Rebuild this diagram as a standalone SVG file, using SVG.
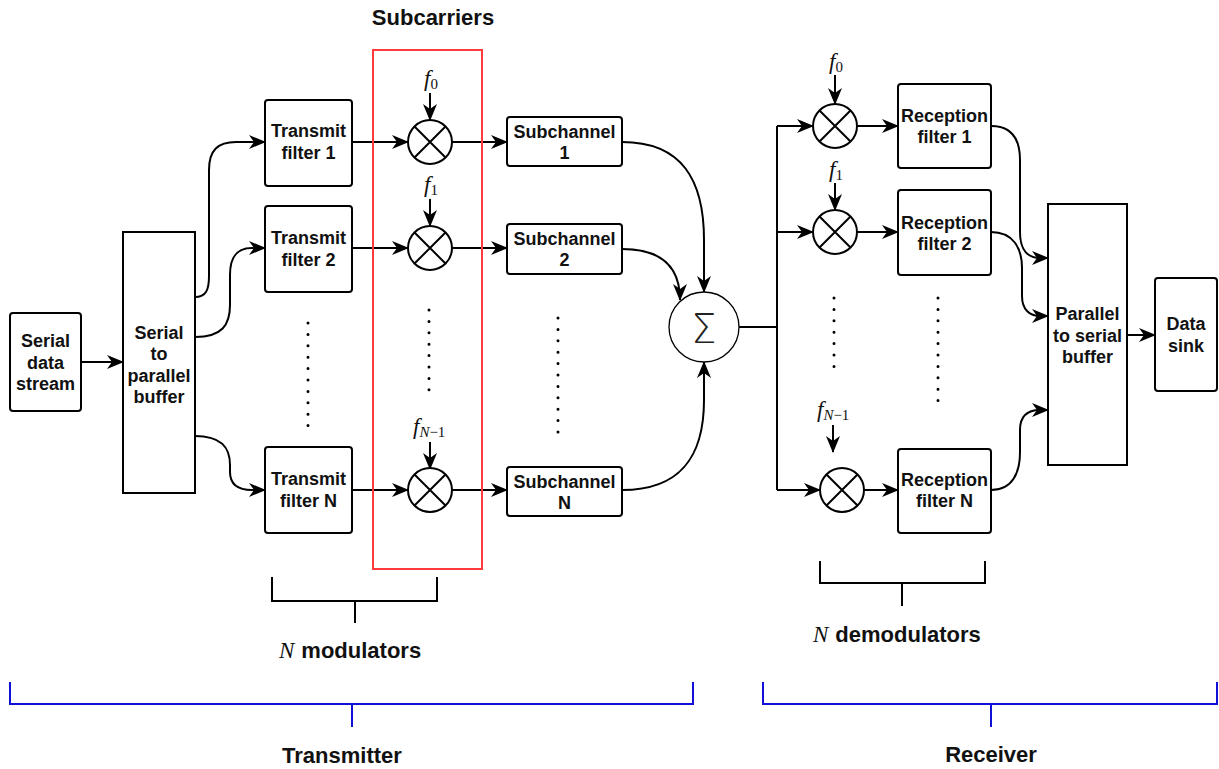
<svg xmlns="http://www.w3.org/2000/svg" width="1219" height="769" viewBox="0 0 1219 769">
  <style>
    .box { fill: #fff; stroke: #000; stroke-width: 2; }
    .lbl { font-family: "Liberation Sans", Arial, sans-serif; font-weight: bold; font-size: 18px; fill: #111; text-anchor: middle; }
    .big { font-family: "Liberation Sans", Arial, sans-serif; font-weight: bold; font-size: 22px; fill: #111; }
    .math { font-family: "Liberation Serif", "Times New Roman", serif; font-size: 23px; fill: #111; }
    .sub { font-size: 15px; font-style: normal; }
    .wire { fill: none; stroke: #000; stroke-width: 2; }
    .arrow { fill: none; stroke: #000; stroke-width: 2; marker-end: url(#head); }
    .dots { fill: none; stroke: #000; stroke-width: 3; stroke-linecap: round; stroke-dasharray: 0 11.4; }
    .brk { fill: none; stroke: #000; stroke-width: 2; }
    .bbrk { fill: none; stroke: #1010d8; stroke-width: 2; }
  </style>
  <defs>
    <marker id="head" viewBox="0 0 17 14" refX="16" refY="7" markerWidth="17" markerHeight="14" markerUnits="userSpaceOnUse" orient="auto">
      <path d="M0,0 L17,7 L0,14 L5,7 Z" fill="#000"/>
    </marker>
    <g id="mix">
      <circle r="22" fill="#fff" stroke="#000" stroke-width="2"/>
      <path d="M-15.5,-15.5 L15.5,15.5 M15.5,-15.5 L-15.5,15.5" stroke="#000" stroke-width="2"/>
    </g>
  </defs>

  <rect width="1219" height="769" fill="#fff"/>

  <!-- connectors -->
  <g id="connectors">
    <path class="arrow" d="M81,362 L123,362"/>
    <path class="arrow" d="M195,297 C206,297 209,290 209,276 L209,170 C209,150 218,142 236,142 L265,142"/>
    <path class="arrow" d="M195,337 C222,337 230,325 230,305 L230,275 C230,255 238,248 252,248 L265,248"/>
    <path class="arrow" d="M195,436 C222,436 230,448 230,465 L230,472 C230,485 238,490 252,490 L265,490"/>

    <path class="arrow" d="M352,142 L408,142"/>
    <path class="arrow" d="M352,248 L408,248"/>
    <path class="arrow" d="M352,490 L408,490"/>
    <path class="arrow" d="M452,142 L507,142"/>
    <path class="arrow" d="M452,248 L507,248"/>
    <path class="arrow" d="M452,490 L507,490"/>

    <path class="arrow" d="M430,93 L430,120"/>
    <path class="arrow" d="M430,199 L430,226"/>
    <path class="arrow" d="M430,442 L430,469"/>

    <path class="arrow" d="M622,142 C682,142 704,180 704,240 L704,292"/>
    <path class="arrow" d="M622,249 C660,249 680,265 680,300"/>
    <path class="arrow" d="M622,490 C682,490 704,455 704,400 L704,362"/>

    <path class="wire" d="M739,327 L777,327 M777,126 L777,490"/>
    <path class="arrow" d="M777,126 L813,126"/>
    <path class="arrow" d="M777,232 L813,232"/>
    <path class="arrow" d="M777,490 L820,490"/>
    <path class="arrow" d="M857,126 L898,126"/>
    <path class="arrow" d="M857,232 L898,232"/>
    <path class="arrow" d="M864,490 L898,490"/>

    <path class="arrow" d="M835,75 L835,104"/>
    <path class="arrow" d="M835,183 L835,210"/>
    <path class="arrow" d="M833,425 L833,452"/>

    <path class="arrow" d="M991,126 C1013,126 1020,140 1020,160 L1020,232 C1020,250 1028,258 1040,258 L1048,258"/>
    <path class="arrow" d="M991,232 C1013,232 1022,248 1022,268 L1022,296 C1022,310 1030,316 1040,316 L1048,316"/>
    <path class="arrow" d="M991,490 C1013,490 1020,472 1020,452 L1020,430 C1020,416 1028,410 1040,410 L1048,410"/>

    <path class="arrow" d="M1127,335 L1155,335"/>
  </g>

  <!-- transmitter side -->
  <g id="serial-data-stream">
    <rect class="box" x="10" y="313" width="71" height="98" rx="3"/>
    <text class="lbl" x="45.5" y="347">Serial</text>
    <text class="lbl" x="45.5" y="369">data</text>
    <text class="lbl" x="45.5" y="390">stream</text>
  </g>
  <g id="serial-to-parallel">
    <rect class="box" x="123" y="232" width="72" height="261"/>
    <text class="lbl" x="159" y="339">Serial</text>
    <text class="lbl" x="159" y="360">to</text>
    <text class="lbl" x="159" y="382">parallel</text>
    <text class="lbl" x="159" y="403">buffer</text>
  </g>
  <g id="transmit-filter-1">
    <rect class="box" x="265" y="100" width="87" height="86" rx="3"/>
    <text class="lbl" x="308.5" y="137">Transmit</text>
    <text class="lbl" x="308.5" y="159">filter 1</text>
  </g>
  <g id="transmit-filter-2">
    <rect class="box" x="265" y="206" width="87" height="86" rx="3"/>
    <text class="lbl" x="308.5" y="244">Transmit</text>
    <text class="lbl" x="308.5" y="266">filter 2</text>
  </g>
  <g id="transmit-filter-n">
    <rect class="box" x="265" y="447" width="87" height="86" rx="3"/>
    <text class="lbl" x="308.5" y="485">Transmit</text>
    <text class="lbl" x="308.5" y="507">filter N</text>
  </g>

  <g id="subcarriers">
    <rect x="373" y="50" width="109" height="519" fill="none" stroke="#ff3b3b" stroke-width="2"/>
    <text class="big" x="433" y="25" text-anchor="middle" font-size="19.5">Subcarriers</text>
  </g>
  <g id="tx-mixer-0">
    <use href="#mix" x="430" y="142"/>
    <text class="math" x="424" y="86"><tspan font-style="italic">f</tspan><tspan class="sub" dy="3">0</tspan></text>
  </g>
  <g id="tx-mixer-1">
    <use href="#mix" x="430" y="248"/>
    <text class="math" x="424" y="192"><tspan font-style="italic">f</tspan><tspan class="sub" dy="3">1</tspan></text>
  </g>
  <g id="tx-mixer-n">
    <use href="#mix" x="430" y="490"/>
    <text class="math" x="413" y="434"><tspan font-style="italic">f</tspan><tspan class="sub" dy="3"><tspan font-style="italic">N</tspan>−1</tspan></text>
  </g>

  <g id="subchannel-1">
    <rect class="box" x="507" y="117" width="115" height="49" rx="3"/>
    <text class="lbl" x="564.5" y="138">Subchannel</text>
    <text class="lbl" x="564.5" y="159">1</text>
  </g>
  <g id="subchannel-2">
    <rect class="box" x="507" y="224" width="115" height="50" rx="3"/>
    <text class="lbl" x="564.5" y="245">Subchannel</text>
    <text class="lbl" x="564.5" y="266">2</text>
  </g>
  <g id="subchannel-n">
    <rect class="box" x="507" y="467" width="115" height="49" rx="3"/>
    <text class="lbl" x="564.5" y="488">Subchannel</text>
    <text class="lbl" x="564.5" y="509">N</text>
  </g>

  <g id="summer">
    <circle cx="704" cy="327" r="35" fill="#fff" stroke="#000" stroke-width="1.3"/>
    <text x="704" y="343" text-anchor="middle" font-family="DejaVu Sans, sans-serif" font-weight="200" font-size="40" fill="#222">Σ</text>
  </g>

  <!-- receiver side -->
  <g id="rx-mixer-0">
    <use href="#mix" x="835" y="126"/>
    <text class="math" x="829" y="69"><tspan font-style="italic">f</tspan><tspan class="sub" dy="3">0</tspan></text>
  </g>
  <g id="rx-mixer-1">
    <use href="#mix" x="835" y="232"/>
    <text class="math" x="829" y="177"><tspan font-style="italic">f</tspan><tspan class="sub" dy="3">1</tspan></text>
  </g>
  <g id="rx-mixer-n">
    <use href="#mix" x="842" y="490"/>
    <text class="math" x="817" y="417"><tspan font-style="italic">f</tspan><tspan class="sub" dy="3"><tspan font-style="italic">N</tspan>−1</tspan></text>
  </g>

  <g id="reception-filter-1">
    <rect class="box" x="898" y="84" width="93" height="84" rx="3"/>
    <text class="lbl" x="944.5" y="122">Reception</text>
    <text class="lbl" x="944.5" y="143">filter 1</text>
  </g>
  <g id="reception-filter-2">
    <rect class="box" x="898" y="190" width="93" height="85" rx="3"/>
    <text class="lbl" x="944.5" y="229">Reception</text>
    <text class="lbl" x="944.5" y="250">filter 2</text>
  </g>
  <g id="reception-filter-n">
    <rect class="box" x="898" y="449" width="93" height="84" rx="3"/>
    <text class="lbl" x="944.5" y="486">Reception</text>
    <text class="lbl" x="944.5" y="507">filter N</text>
  </g>

  <g id="parallel-to-serial">
    <rect class="box" x="1048" y="204" width="79" height="261"/>
    <text class="lbl" x="1087.5" y="320">Parallel</text>
    <text class="lbl" x="1087.5" y="342">to serial</text>
    <text class="lbl" x="1087.5" y="363">buffer</text>
  </g>
  <g id="data-sink">
    <rect class="box" x="1155" y="278" width="62" height="113" rx="3"/>
    <text class="lbl" x="1186" y="330">Data</text>
    <text class="lbl" x="1186" y="352">sink</text>
  </g>

  <!-- continuation dots -->
  <g id="ellipses">
    <path class="dots" d="M308,323 L308,430"/>
    <path class="dots" d="M429,310 L429,392"/>
    <path class="dots" d="M558,318 L558,436"/>
    <path class="dots" d="M834,298 L834,368"/>
    <path class="dots" d="M938,298 L938,406"/>
  </g>

  <!-- group brackets -->
  <g id="modulators-bracket">
    <path class="brk" d="M272,577 L272,601 L437,601 L437,577 M355,601 L355,623"/>
    <text x="279" y="658"><tspan class="math" font-style="italic" font-size="26">N</tspan><tspan class="big" dx="7">modulators</tspan></text>
  </g>
  <g id="demodulators-bracket">
    <path class="brk" d="M820,561 L820,583 L985,583 L985,561 M902,583 L902,606"/>
    <text x="813" y="642"><tspan class="math" font-style="italic" font-size="26">N</tspan><tspan class="big" dx="7">demodulators</tspan></text>
  </g>
  <g id="transmitter-bracket">
    <path class="bbrk" d="M10,682 L10,704 L693,704 L693,682 M352,704 L352,727"/>
    <text class="big" x="342" y="763" text-anchor="middle">Transmitter</text>
  </g>
  <g id="receiver-bracket">
    <path class="bbrk" d="M763,682 L763,704 L1217,704 L1217,682 M991,704 L991,727"/>
    <text class="big" x="991" y="762" text-anchor="middle">Receiver</text>
  </g>
</svg>
